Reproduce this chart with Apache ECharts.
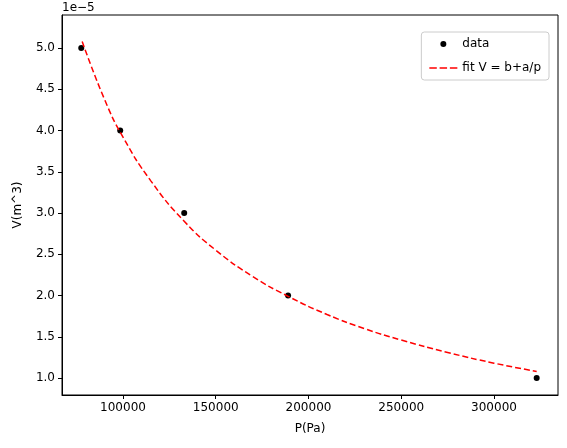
<!DOCTYPE html>
<html><head><meta charset="utf-8">
<script src="https://cdn.jsdelivr.net/npm/echarts@6/dist/echarts.min.js"></script>
<style>html,body{margin:0;padding:0;background:#fff}#c{width:567px;height:448px}</style>
</head><body><div id="c"></div>
<script>
const dataP = [77500, 98500, 133000, 189000, 323000];
const dataV = [5.0, 4.0, 3.0, 2.0, 1.0];
const fitP = [78000, 90000, 100000, 115000, 133000, 150000, 170000, 189000, 210000, 230000, 250000, 275000, 300000, 323000];
const fitV = [5.08, 4.38, 3.92, 3.39, 2.90, 2.55, 2.23, 1.99, 1.77, 1.60, 1.46, 1.31, 1.18, 1.08];
const xTicks = [100000, 150000, 200000, 250000, 300000];
const yTicks = [1.0, 1.5, 2.0, 2.5, 3.0, 3.5, 4.0, 4.5, 5.0];
const font = 'DejaVu Sans';
const chart = echarts.init(document.getElementById('c'));
chart.setOption({
  animation: false,
  textStyle: {fontFamily: font},
  grid: {left: 62, right: 9, top: 15, bottom: 53, show: true, borderColor: '#000', borderWidth: 1},
  graphic: [{type: 'text', left: 62, top: 2, style: {text: '1e\u22125', font: '12px DejaVu Sans', fill: '#000'}}],
  legend: {
    orient: 'vertical', right: 18, top: 32, borderColor: '#ccc', borderWidth: 1, borderRadius: 3,
    padding: [6, 8], itemGap: 12, itemWidth: 28, itemHeight: 6,
    textStyle: {fontFamily: font, fontSize: 12, color: '#000'},
    data: [{name: 'data', icon: 'circle', itemStyle: {color: '#000'}},
           {name: 'fit V = b+a/p', icon: 'path://M0,0h8v1.6h-8zM11,0h8v1.6h-8zM22,0h8v1.6h-8z', itemStyle: {color: '#ff0000'}}]
  },
  xAxis: {
    type: 'value', min: 67120, max: 334500, name: 'P(Pa)', nameLocation: 'middle', nameGap: 28,
    nameTextStyle: {fontFamily: font, fontSize: 12, color: '#000'},
    splitLine: {show: false},
    axisLine: {lineStyle: {color: '#000'}},
    axisTick: {show: true, length: 4, lineStyle: {color: '#000'}, customValues: xTicks},
    axisLabel: {customValues: xTicks, color: '#000', fontSize: 12, fontFamily: font, margin: 7,
      formatter: v => String(Math.round(v))}
  },
  yAxis: {
    type: 'value', min: 0.794, max: 5.4, name: 'V(m^3)', nameLocation: 'middle', nameGap: 38,
    nameTextStyle: {fontFamily: font, fontSize: 12, color: '#000'},
    splitLine: {show: false},
    axisLine: {show: true, lineStyle: {color: '#000'}},
    axisTick: {show: true, length: 4, lineStyle: {color: '#000'}, customValues: yTicks},
    axisLabel: {customValues: yTicks, color: '#000', fontSize: 12, fontFamily: font, margin: 7,
      formatter: v => v.toFixed(1)}
  },
  series: [
    {name: 'data', type: 'scatter', symbolSize: 6, itemStyle: {color: '#000', opacity: 1},
     data: dataP.map((p, i) => [p, dataV[i]])},
    {name: 'fit V = b+a/p', type: 'line', smooth: true, showSymbol: false, symbol: 'none',
     lineStyle: {color: '#ff0000', type: [6, 3], width: 1.5}, itemStyle: {color: '#ff0000'},
     data: fitP.map((p, i) => [p, fitV[i]])}
  ]
});
</script></body></html>
